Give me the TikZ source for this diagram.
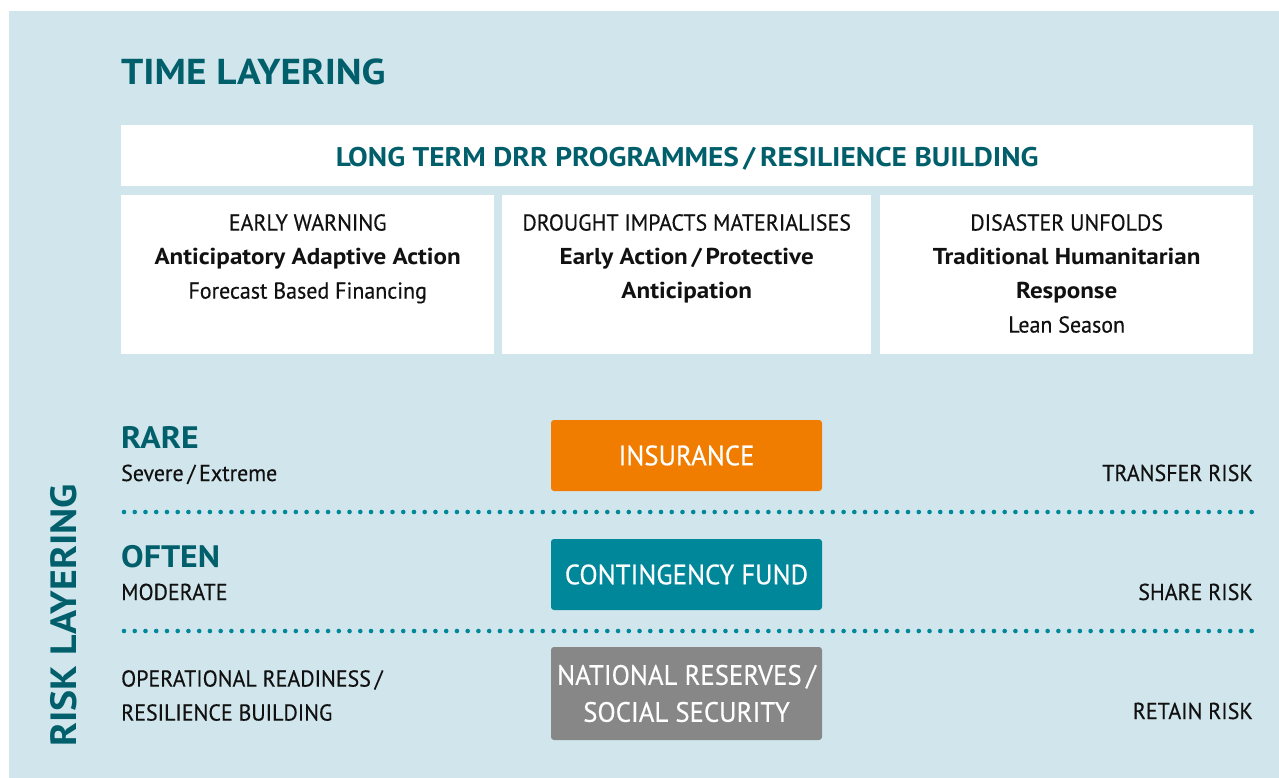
\documentclass[tikz,border=0pt]{standalone}
\usepackage{fontspec}
\setmainfont{PT Sans}[FakeStretch=0.955, FakeBold=0.35,
    BoldFeatures={FakeStretch=1.09, FakeBold=0}]
\usetikzlibrary{positioning}
\definecolor{bgblue}{HTML}{D0E6EC}
\definecolor{darkteal}{HTML}{005F6A}
\definecolor{dotteal}{HTML}{00879A}
\definecolor{insorange}{HTML}{F07D00}
\definecolor{resgrey}{HTML}{878787}
\definecolor{bodytxt}{HTML}{111111}
\pgfkeys{tikz/whitebox/.style={fill=white, inner sep=0pt, anchor=north west}}
\pgfkeys{tikz/phasetxt/.style={inner sep=0pt, anchor=north, align=center,
                                   text=bodytxt, font=\fontsize{23}{34}\selectfont}}
\pgfkeys{tikz/levelhead/.style={inner sep=0pt, text=darkteal,
                                    font=\fontsize{31}{34}\selectfont\bfseries}}
\pgfkeys{tikz/leveltxt/.style={inner sep=0pt, text=bodytxt, align=left,
                                   font=\fontsize{23}{34}\selectfont}}
\pgfkeys{tikz/riskbox/.style={rounded corners=3pt, inner sep=0pt, text=white,
                                  align=center, minimum width=271pt,
                                  font=\fontsize{28}{37}\selectfont}}
\pgfkeys{tikz/dotline/.style={dotteal, line width=4.6pt, line cap=round,
                                  dash pattern=on 0pt off 10.74pt}}

\begin{document}
\begin{tikzpicture}[x=1pt,y=-1pt]
    \useasboundingbox (0,0) rectangle (1279,778);
    \fill[bgblue] (9,11) rectangle (1279,778);

    % time layering
    \node[levelhead, anchor=base west, font=\fontsize{36}{40}\selectfont\bfseries] (timehead) at (121,85) {TIME LAYERING};
    \node[whitebox, minimum width=1132pt, minimum height=61pt] (drr) at (121,125) {};
    \node[inner sep=0pt, anchor=base, text=darkteal, font=\fontsize{27}{30}\selectfont\bfseries] (drrtxt) at (drr.center |- 0,167) {LONG TERM DRR PROGRAMMES\,/\,RESILIENCE BUILDING};

    \node[whitebox, minimum width=373pt, minimum height=159pt] (early) at (121,195) {};
    \node[whitebox, minimum width=369pt, minimum height=159pt] (drought) at (502,195) {};
    \node[whitebox, minimum width=373pt, minimum height=159pt] (disaster) at (880,195) {};
    \node[phasetxt] (earlytxt) at (early.center |- 0,214) {EARLY WARNING\\\textbf{Anticipatory Adaptive Action}\\Forecast Based Financing};
    \node[phasetxt] (droughttxt) at (drought.center |- 0,214) {DROUGHT IMPACTS MATERIALISES\\\textbf{Early Action\,/\,Protective}\\\textbf{Anticipation}};
    \node[phasetxt] (disastertxt) at (disaster.center |- 0,214) {DISASTER UNFOLDS\\\textbf{Traditional Humanitarian}\\\textbf{Response}\\Lean Season};

    % risk layering
    \node[levelhead, anchor=base west, rotate=90, font=\fontsize{36.5}{40}\selectfont\bfseries] (riskhead) at (76,747) {RISK LAYERING};

    \node[levelhead, anchor=base west] (rare) at (121,448) {RARE};
    \node[leveltxt, anchor=base west] (severe) at (121,481) {Severe\,/\,Extreme};
    \node[levelhead, anchor=base west] (often) at (121,567) {OFTEN};
    \node[leveltxt, anchor=base west] (moderate) at (121,600) {MODERATE};
    \node[leveltxt, anchor=north west] (operational) at (121,670) {OPERATIONAL READINESS\,/\\RESILIENCE BUILDING};

    \node[riskbox, fill=insorange, minimum height=71pt] (insurance) at (686.5,455.5) {INSURANCE};
    \node[riskbox, fill=dotteal, minimum height=71pt] (contingency) at (686.5,574.5) {CONTINGENCY FUND};
    \node[riskbox, fill=resgrey, minimum height=93pt] (reserves) at (686.5,693.5) {NATIONAL RESERVES\,/\\SOCIAL SECURITY};

    \node[leveltxt, anchor=base east] (transfer) at (1253,481) {TRANSFER RISK};
    \node[leveltxt, anchor=base east] (share) at (1253,600) {SHARE RISK};
    \node[leveltxt, anchor=base east] (retain) at (1253,719) {RETAIN RISK};

    \coordinate (rareL) at (124,512);
    \coordinate (rareR) at (1252,512);
    \coordinate (oftenL) at (124,631);
    \coordinate (oftenR) at (1252,631);
    \draw[dotline] (rareL) -- (rareR);
    \draw[dotline] (oftenL) -- (oftenR);
\end{tikzpicture}
\end{document}
